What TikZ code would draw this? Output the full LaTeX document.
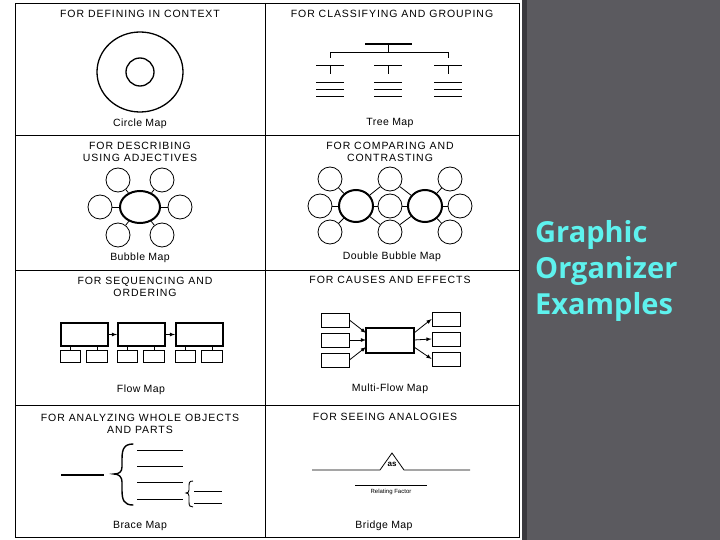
\documentclass[tikz,border=0pt]{standalone}
\usepackage{fontspec}
\usetikzlibrary{shapes.geometric}
\setmainfont{Liberation Sans}
\newfontfamily\titlefont{Open Sans}
\definecolor{slate}{HTML}{5B5A5F}
\definecolor{slatedark}{HTML}{3A393E}
\definecolor{aqua}{HTML}{5EF2EE}
\begin{document}
\begin{tikzpicture}[x=1pt,y=-1pt,
  ttl/.style={font=\fontsize{10.5}{12.5}\selectfont\addfontfeatures{LetterSpace=9}, align=center, inner sep=0},
  lbl/.style={font=\fontsize{10.5}{12}\selectfont\addfontfeatures{LetterSpace=4}, inner sep=0},
  gl/.style={line width=0.8pt},
  bb/.style={circle, draw, line width=0.8pt, inner sep=0, minimum size=24},
  bbc/.style={ellipse, draw, line width=2pt, inner sep=0, minimum width=40, minimum height=32},
  bx/.style={draw, line width=0.8pt, inner sep=0},
  bxt/.style={draw, line width=2pt, inner sep=0},
  brace/.style={line width=1.4pt, line cap=round}]
\useasboundingbox (0,0) rectangle (720,540);
\fill[white] (0,0) rectangle (522,540);
\fill[slate] (522,0) rectangle (720,540);
\fill[slatedark] (522,0) rectangle (527,540);
% grid
\draw[gl] (15,3) rectangle (519,537);
\draw[gl] (265,3) -- (265,537);
\foreach \y in {135,270,405} \draw[gl] (15,\y) -- (519,\y);
% titles
\node[ttl] (t1) at (140,14) {FOR DEFINING IN CONTEXT};
\node[ttl] (t2) at (392,14) {FOR CLASSIFYING AND GROUPING};
\node[ttl] (t3) at (140,152) {FOR DESCRIBING\\USING ADJECTIVES};
\node[ttl] (t4) at (390,152) {FOR COMPARING AND\\CONTRASTING};
\node[ttl] (t5) at (145,287) {FOR SEQUENCING AND\\ORDERING};
\node[ttl] (t6) at (390,280) {FOR CAUSES AND EFFECTS};
\node[ttl] (t7) at (140,424) {FOR ANALYZING WHOLE OBJECTS\\AND PARTS};
\node[ttl] (t8) at (385,417) {FOR SEEING ANALOGIES};
\node[lbl] (l1) at (140,124) {Circle Map};
\node[lbl] (l2) at (390,123) {Tree Map};
\node[lbl] (l3) at (140,258) {Bubble Map};
\node[lbl] (l4) at (392,257) {Double Bubble Map};
\node[lbl] (l5) at (141,390) {Flow Map};
\node[lbl] (l6) at (390,389) {Multi-Flow Map};
\node[lbl] (l7) at (140,526) {Brace Map};
\node[lbl] (l8) at (384,526) {Bridge Map};
% circle map
\draw[line width=1.3pt] (140,72) ellipse (43 and 40);
\draw[line width=1.3pt] (140,72) circle (14);
% tree map
\draw[line width=2pt] (365,44) -- (412,44);
\draw[line width=0.8pt] (388,44) -- (388,52);
\draw[line width=0.6pt] (330,58) -- (330,52) -- (448,52) -- (448,58);
\foreach \x in {330,388,448}{
  \draw[line width=1pt] (\x-14,66) -- (\x+14,66);
  \draw[line width=0.8pt] (\x,66) -- (\x,74);
  \foreach \y in {82,89,96} \draw[line width=0.9pt] (\x-14,\y) -- (\x+14,\y);
}
% bubble map
\node[bbc] (bcen) at (140,207) {};
\foreach \n/\x/\y in {a/118/180,b/162/180,c/100/207,d/180/207,e/118/235,f/162/235}{
  \node[bb] (bub\n) at (\x,\y) {};
  \draw[gl] (bcen) -- (bub\n);
}
% double bubble
\node[bbc, minimum width=34, minimum height=32] (dbl) at (356,206) {};
\node[bbc, minimum width=34, minimum height=32] (dbr) at (425,206) {};
\foreach \n/\x/\y in {a/330/179,b/390/179,c/450/179,d/320/206,e/390/206,f/460/206,g/330/232,h/390/232,i/450/232}
  \node[bb] (dub\n) at (\x,\y) {};
\foreach \n in {a,d,g,b,e,h} \draw[gl] (dbl) -- (dub\n);
\foreach \n in {b,e,h,c,f,i} \draw[gl] (dbr) -- (dub\n);
% flow map
\foreach \i/\x in {1/60,2/117,3/175}{
  \node[bxt, minimum width=47, minimum height=23, anchor=north west] (f\i) at (\x,322) {};
  \node[bx, minimum width=20, minimum height=12, anchor=north west] (f\i a) at (\x,350) {};
  \node[bx, minimum width=21, minimum height=12, anchor=north west] (f\i b) at (\x+26,350) {};
  \draw[gl] (f\i a.north) -- (f\i a.north |- f\i.south);
  \draw[gl] (f\i b.north) -- (f\i b.north |- f\i.south);
}
\draw[gl,-latex] (f1) -- (f2);
\draw[gl,-latex] (f2) -- (f3);
% multi-flow
\node[bxt, minimum width=48, minimum height=25] (mc) at (390,340) {};
\foreach \i/\y/\t in {1/320/333,2/340/340,3/360/347}{
  \node[bx, minimum width=28, minimum height=14] (ml\i) at (335,\y) {};
  \node[bx, minimum width=28, minimum height=14] (mr\i) at (446,\y-1) {};
  \coordinate (mi\i) at (366,\t);
  \coordinate (mo\i) at (414,\t);
  \draw[gl,-latex] (ml\i.east) -- (mi\i);
  \draw[gl,-latex] (mo\i) -- (mr\i.west);
}
% brace map
\draw[line width=1.5pt] (61,475) -- (104,475);
\draw[brace] (133,444) .. controls (122,444) and (122,452) .. (122,462) -- (122,467)
  .. controls (122,472) and (119,474) .. (114,474)
  .. controls (119,474) and (122,477) .. (122,482) -- (122,490)
  .. controls (122,500) and (124,505) .. (133,505);
\foreach \y in {450,466,482,499} \draw[gl] (137,\y) -- (183,\y);
\draw[line width=0.9pt] (193,481) .. controls (189,481) and (189,483) .. (189,487) -- (189,490)
  .. controls (189,492) and (188,493) .. (186,493)
  .. controls (188,493) and (189,494) .. (189,496) -- (189,502)
  .. controls (189,506) and (190,507) .. (193,507);
\foreach \y in {491,503} \draw[gl] (194,\y) -- (222,\y);
% bridge map
\draw[gl] (312,470) -- (380,470) -- (392,453) -- (404,470) -- (470,470);
\node[inner sep=0, font=\fontsize{8}{8}\selectfont\bfseries] (as) at (392,464) {as};
\draw[gl] (355,485) -- (427,485);
\node[inner sep=0, font=\fontsize{6}{6}\selectfont] (rf) at (391,492) {Relating Factor};
% title
\node[anchor=north west, align=left, text=aqua, inner sep=0,
  font=\titlefont\bfseries\fontsize{29}{36}\selectfont] (gt) at (535,220) {Graphic\\Organizer\\Examples};
\end{tikzpicture}
\end{document}
